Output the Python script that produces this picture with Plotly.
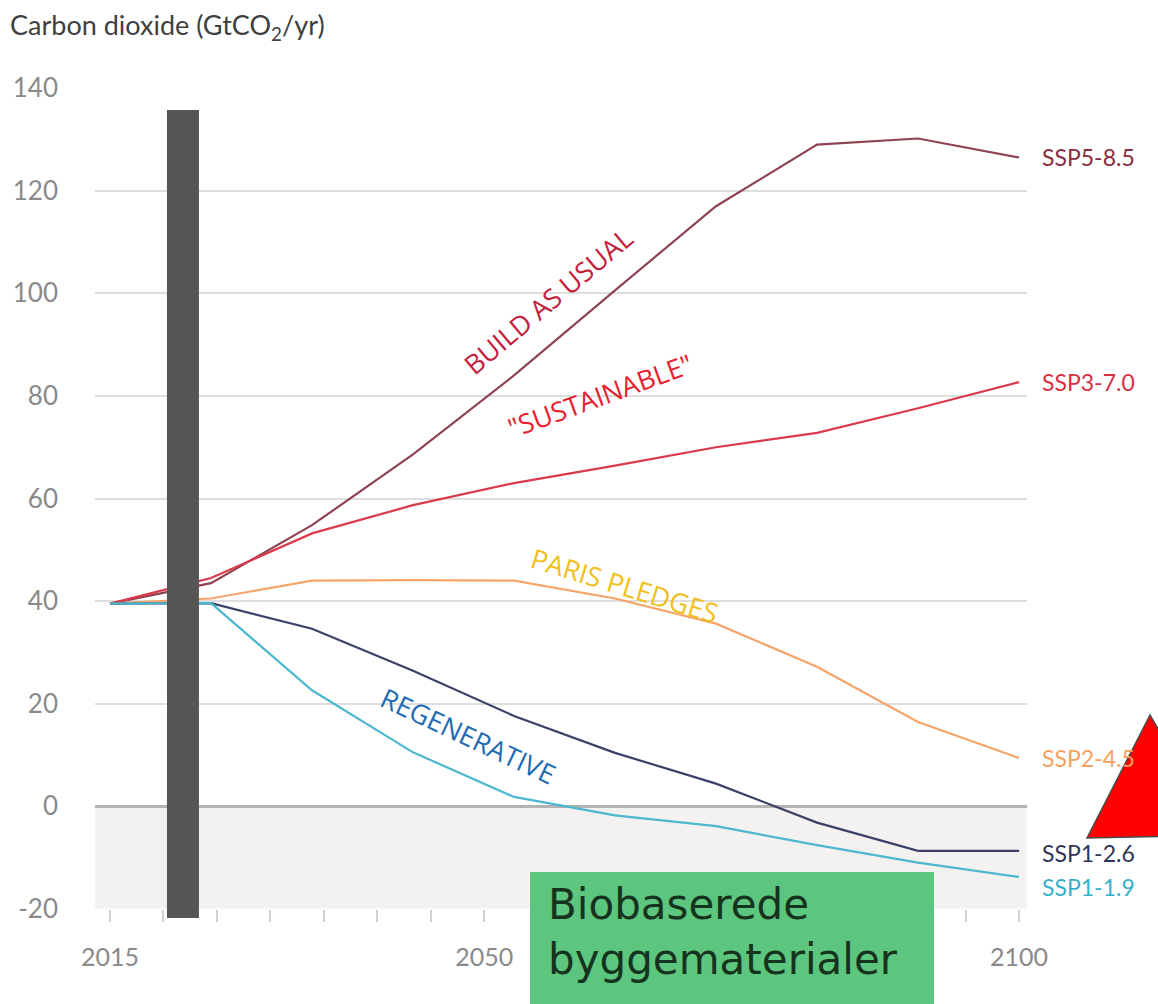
import plotly.graph_objects as go

# ---------------- data ----------------
years = ["2015", "2020", "2030", "2040", "2050", "2060", "2070", "2080", "2090", "2100"]
ssp585 = [39.5, 43.5, 54.8, 68.6, 84.0, 100.6, 117.0, 129.0, 130.2, 126.5]
ssp370 = [39.5, 44.5, 53.2, 58.7, 63.0, 66.4, 70.0, 72.8, 77.6, 82.7]
ssp245 = [39.5, 40.5, 44.0, 44.1, 44.0, 40.5, 35.6, 27.2, 16.4, 9.4]
ssp126 = [39.5, 39.6, 34.6, 26.4, 17.6, 10.4, 4.4, -3.2, -8.7, -8.7]
ssp119 = [39.5, 39.6, 22.6, 10.5, 1.8, -1.8, -3.9, -7.6, -11.0, -13.8]

series_names = ["SSP5-8.5", "SSP3-7.0", "SSP2-4.5", "SSP1-2.6", "SSP1-1.9"]
series_values = [ssp585, ssp370, ssp245, ssp126, ssp119]
series_colors = ["#8e4452", "#dc3a4c", "#f5a46a", "#3b4168", "#4db7cf"]
label_colors = ["#8a2c3e", "#d8303f", "#f3a260", "#2e3558", "#35b0cc"]
label_yshift = [0, 0, 0, -2, -10]

tick_years = list(range(2015, 2101, 5))
tick_labels = [str(y) if y in (2015, 2050, 2100) else "" for y in tick_years]
y_ticks = [-20, 0, 20, 40, 60, 80, 100, 120, 140]
y_tick_text = ["-20", "0", "20", "40", "60", "80", "100", "120", "140"]

story_labels = ["BUILD AS USUAL", "\"SUSTAINABLE\"", "PARIS PLEDGES", "REGENERATIVE"]
story_x = [2056.0, 2060.8, 2063.2, 2048.5]
story_y = [98.6, 80.1, 43.1, 13.8]
story_angle = [-40, -20, 17, 25]
story_colors = ["#c4203c", "#e8202e", "#f0c020", "#1f6cb4"]

# ---------------- figure ----------------
fig = go.Figure()
for name, vals, col in zip(series_names, series_values, series_colors):
    fig.add_trace(go.Scatter(x=years, y=vals, mode="lines", name=name,
                             line=dict(color=col, width=2.2),
                             xaxis="x2", yaxis="y", showlegend=False,
                             hoverinfo="skip"))

W, H = 1158, 1004
L, R, T, B = 95, 131, 88, 95

fig.update_layout(
    width=W, height=H,
    margin=dict(l=L, r=R, t=T, b=B),
    paper_bgcolor="white", plot_bgcolor="white",
    font=dict(family="Lato", color="#8a8a8a"),
    xaxis=dict(range=[2013.6, 2100.75], tickvals=tick_years, ticktext=tick_labels,
               ticks="outside", ticklen=12, tickwidth=2, tickcolor="#cfcfcf",
               showgrid=False, zeroline=False, showline=False,
               tickfont=dict(family="Lato", size=25, color="#8a8a8a"),
               ticklabelstandoff=14, fixedrange=True),
    xaxis2=dict(type="category", overlaying="x", anchor="y",
                range=[-0.1485, 9.079], visible=False, fixedrange=True),
    yaxis=dict(range=[-20.05, 140.05], tickvals=y_ticks, ticktext=y_tick_text,
               showgrid=True, gridcolor="#dedede", gridwidth=2,
               zeroline=True, zerolinecolor="#b4b4b4", zerolinewidth=2.5,
               ticks="", tickfont=dict(family="Lato", size=26, color="#8a8a8a"),
               ticklabelstandoff=36, fixedrange=True),
)

def px_x(px):
    return (px - L) / (W - L - R)

def px_y(py):
    return (H - B - py) / (H - T - B)

shapes = []
# shaded negative region
shapes.append(dict(type="rect", xref="paper", yref="y", x0=0, x1=1, y0=-20, y1=0,
                   fillcolor="#f3f2f1", line=dict(width=0), layer="below"))
# grey vertical bar
shapes.append(dict(type="rect", xref="x", yref="paper", x0=2020.33, x1=2023.32,
                   y0=px_y(918), y1=px_y(110), fillcolor="#555555",
                   line=dict(width=0), layer="above"))
# green box
shapes.append(dict(type="rect", xref="paper", yref="paper", x0=px_x(530), x1=px_x(934),
                   y0=px_y(1010), y1=px_y(872), fillcolor="#5dc67e",
                   line=dict(width=0), layer="above"))
# red triangle
tri = "M {:.4f},{:.4f} L {:.4f},{:.4f} L {:.4f},{:.4f} Z".format(
    px_x(1150), px_y(715), px_x(1087), px_y(838), px_x(1220), px_y(835))
shapes.append(dict(type="path", xref="paper", yref="paper", path=tri,
                   fillcolor="#ff0000", line=dict(color="#4a4a4a", width=1.5),
                   layer="above"))
fig.update_layout(shapes=shapes)

ann = []
ann.append(dict(text="Carbon dioxide (GtCO<sub>2</sub>/yr)", xref="paper", yref="paper",
                x=px_x(8), y=px_y(6), xanchor="left", yanchor="top", showarrow=False,
                font=dict(family="Lato", size=27, color="#3f3f3f")))
for name, vals, col, ys in zip(series_names, series_values, label_colors, label_yshift):
    ann.append(dict(text=name, xref="x", yref="y", x=2100, y=vals[-1],
                    xanchor="left", yanchor="middle", xshift=21, yshift=ys,
                    showarrow=False, font=dict(family="Lato", size=23, color=col)))
for t, x, y, a, c in zip(story_labels, story_x, story_y, story_angle, story_colors):
    ann.append(dict(text=t, xref="x", yref="y", x=x, y=y, textangle=a,
                    showarrow=False, font=dict(family="Open Sans", size=27, color=c)))
ann.append(dict(text="Biobaserede<br>byggematerialer", xref="paper", yref="paper",
                x=px_x(546), y=px_y(878), xanchor="left", yanchor="top", align="left",
                showarrow=False,
                font=dict(family="DejaVu Sans", size=42, color="#16331d")))
fig.update_layout(annotations=ann)

fig.write_html("out.html", config={"displayModeBar": False},
               post_script="document.body.style.margin='0';")
